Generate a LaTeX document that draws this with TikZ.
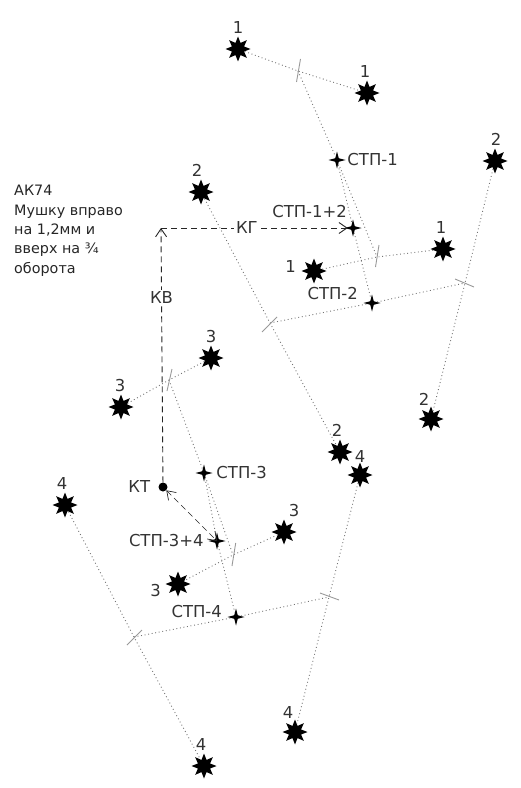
\documentclass[tikz,border=0pt]{standalone}
\usepackage{fontspec}
\setmainfont{DejaVu Sans}
\usetikzlibrary{shapes.geometric, arrows.meta, positioning}

\begin{document}
\begin{tikzpicture}[
        x=1bp, y=-1bp,
        node distance=3bp,
        hit/.style={star, star points=8, star point ratio=1.9, fill=black, inner sep=0pt, minimum size=25bp},
        mean/.style={star, star points=4, star point ratio=3.4, fill=black, inner sep=0pt, minimum size=17bp},
        num/.style={inner sep=0pt, font=\fontsize{16.5}{16.5}\selectfont, text=black!80},
        txt/.style={inner sep=0pt, font=\fontsize{16.5}{16.5}\selectfont, text=black!80},
        spread/.style={dash pattern=on 0.9bp off 2.7bp, black!55, line width=0.9bp},
        crossbar/.style={black!40, line width=0.9bp},
        correction/.style={dash pattern=on 6bp off 4bp, line width=0.9bp, black!85},
        opentip/.style={-{Straight Barb[length=8bp, width=11bp]}}
    ]
    \useasboundingbox (0,0) rectangle (521,788);

    % centres of the pairs
    \coordinate (m1) at (298,71);
    \coordinate (m2) at (377,257);
    \coordinate (m3) at (270,323);
    \coordinate (m4) at (465,283);
    \coordinate (m5) at (169,380);
    \coordinate (m6) at (233,555);
    \coordinate (m7) at (134,637);
    \coordinate (m8) at (329,597);

    % bars
    \coordinate (t1a) at (300.5,59);
    \coordinate (t1b) at (296.5,82);
    \coordinate (t2a) at (379,245);
    \coordinate (t2b) at (375.5,267);
    \coordinate (t3a) at (277,317);
    \coordinate (t3b) at (262,332);
    \coordinate (t4a) at (455,279);
    \coordinate (t4b) at (474,287);
    \coordinate (t5a) at (172,369);
    \coordinate (t5b) at (167,391);
    \coordinate (t6a) at (235.7,543);
    \coordinate (t6b) at (232,566);
    \coordinate (t7a) at (142,630);
    \coordinate (t7b) at (127,645);
    \coordinate (t8a) at (320,593);
    \coordinate (t8b) at (339,600);
    \coordinate (corner) at (161,228);

    \node (s1a) [hit] at (238,49) {};
    \node (s1b) [hit] at (367,93) {};
    \node (s1c) [hit] at (314,271) {};
    \node (s1d) [hit] at (443,249) {};
    \node (s2a) [hit] at (201,192) {};
    \node (s2b) [hit] at (340,452) {};
    \node (s2c) [hit] at (495,161) {};
    \node (s2d) [hit] at (431,419) {};
    \node (s3a) [hit] at (211,358) {};
    \node (s3b) [hit] at (121,407) {};
    \node (s3c) [hit] at (284,532) {};
    \node (s3d) [hit] at (178,584) {};
    \node (s4a) [hit] at (65,505) {};
    \node (s4b) [hit] at (204,766) {};
    \node (s4c) [hit] at (360,475) {};
    \node (s4d) [hit] at (295,732) {};

    \node (stp1) [mean] at (337,160) {};
    \node (stp2) [mean] at (372,303) {};
    \node (stp3) [mean] at (204,473) {};
    \node (stp4) [mean] at (236,617) {};
    \node (stp12) [mean] at (353,228) {};
    \node (stp34) [mean] at (217,541) {};
    \node (kt) [circle, fill=black, inner sep=0pt, minimum size=9bp] at (163,487) {};

    \node (n1a) [num, above=2bp of s1a] {1};
    \node (n1b) [num, above=2bp of s1b, xshift=-2bp] {1};
    \node (n1c) [num, left=5bp of s1c, yshift=4bp] {1};
    \node (n1d) [num, above=2bp of s1d, xshift=-2bp] {1};
    \node (n2a) [num, above=2bp of s2a, xshift=-4bp] {2};
    \node (n2b) [num, above=2bp of s2b, xshift=-3bp] {2};
    \node (n2c) [num, above=2bp of s2c, xshift=1bp] {2};
    \node (n2d) [num, above=0bp of s2d, xshift=-7bp] {2};
    \node (n3a) [num, above=2bp of s3a] {3};
    \node (n3b) [num, above=2bp of s3b, xshift=-1bp] {3};
    \node (n3c) [num, above=2bp of s3c, xshift=10bp] {3};
    \node (n3d) [num, left=4bp of s3d, yshift=-7bp] {3};
    \node (n4a) [num, above=2bp of s4a, xshift=-3bp] {4};
    \node (n4b) [num, above=2bp of s4b, xshift=-3bp] {4};
    \node (n4c) [num, above=-1bp of s4c] {4};
    \node (n4d) [num, above=0bp of s4d, xshift=-7bp] {4};

    \node (lstp1) [txt, right=1bp of stp1] {СТП-1};
    \node (lstp2) [txt, above left=1bp and 12bp of stp2] {СТП-2};
    \node (lstp3) [txt, right=3bp of stp3] {СТП-3};
    \node (lstp4) [txt, above left=-3bp and 12bp of stp4] {СТП-4};
    \node (lstp12) [txt, above left=8bp and 4bp of stp12] {СТП-1+2};
    \node (lstp34) [txt, left=4bp of stp34] {СТП-3+4};
    \node (lkt) [txt, left=8bp of kt] {КТ};

    \node (note) [align=left, anchor=north west, inner sep=0pt, text=black!85, font=\fontsize{14.4}{19.5}\selectfont] at (14,185) {АК74\\Мушку вправо\\на 1,2мм и\\вверх на ¾\\оборота};

    \draw [spread] (s1a) -- (m1) -- (s1b);
    \draw [spread] (s1c) -- (m2) -- (s1d);
    \draw [spread] (s2a) -- (m3) -- (s2b);
    \draw [spread] (s2c) -- (m4) -- (s2d);
    \draw [spread] (s3a) -- (m5) -- (s3b);
    \draw [spread] (s3c) -- (m6) -- (s3d);
    \draw [spread] (s4a) -- (m7) -- (s4b);
    \draw [spread] (s4c) -- (m8) -- (s4d);

    \draw [spread] (m1) -- (stp1) -- (m2);
    \draw [spread] (m3) -- (stp2) -- (m4);
    \draw [spread] (m5) -- (stp3) -- (m6);
    \draw [spread] (m7) -- (stp4) -- (m8);
    \draw [spread] (stp1) -- (stp12) -- (stp2);
    \draw [spread] (stp3) -- (stp34) -- (stp4);

    \draw [crossbar] (t1a) -- (t1b);
    \draw [crossbar] (t2a) -- (t2b);
    \draw [crossbar] (t3a) -- (t3b);
    \draw [crossbar] (t4a) -- (t4b);
    \draw [crossbar] (t5a) -- (t5b);
    \draw [crossbar] (t6a) -- (t6b);
    \draw [crossbar] (t7a) -- (t7b);
    \draw [crossbar] (t8a) -- (t8b);

    \draw [correction, opentip] (kt) -- node (kv) [txt, fill=white, inner sep=2bp, pos=0.725] {КВ} (corner);
    \draw [correction, opentip, shorten >=-4bp] (corner) -- node (kg) [txt, fill=white, inner sep=2bp, pos=0.47] {КГ} (stp12);
    \draw [correction, line width=0.7bp, shorten >=-3bp, {Straight Barb[length=8bp, width=11bp]}-{Straight Barb[length=8bp, width=11bp]}] (kt) -- (stp34);

\end{tikzpicture}
\end{document}
